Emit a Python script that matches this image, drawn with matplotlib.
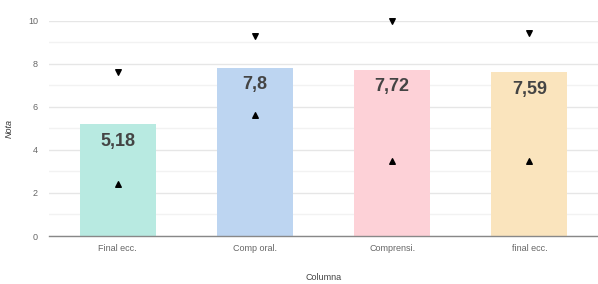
import matplotlib as mpl
mpl.use('Agg')
import matplotlib.pyplot as plt
from matplotlib.ticker import MultipleLocator

plt.rcParams['font.family'] = ['Liberation Sans', 'DejaVu Sans']

categories = ['Final ecc.', 'Comp oral.', 'Comprensi.', 'final ecc.']
means = [5.18, 7.8, 7.72, 7.59]
labels = ['5,18', '7,8', '7,72', '7,59']
maxs = [7.6, 9.3, 10.0, 9.4]
mins = [2.4, 5.6, 3.5, 3.5]
colors = ['#b8eae1', '#bdd5f1', '#fdd1d7', '#fae4bd']

fig = plt.figure(figsize=(5.98, 2.84), dpi=100)
ax = fig.add_axes([49 / 598, 48 / 284, 549 / 598, 215.5 / 284])

x = list(range(len(categories)))
ax.bar(x, means, width=0.555, color=colors, zorder=2)
ax.scatter(x, maxs, marker='v', color='black', s=16, zorder=3, clip_on=False)
ax.scatter(x, mins, marker='^', color='black', s=16, zorder=3, clip_on=False)

for xi, m, lab in zip(x, means, labels):
    ax.annotate(lab, (xi, m), xytext=(0, -6), textcoords='offset points',
                ha='center', va='top', fontsize=13, fontweight='bold',
                color='#444444', zorder=4)

ax.set_xlim(-0.5, 3.5)
ax.set_ylim(0, 10)
ax.yaxis.set_major_locator(MultipleLocator(2))
ax.yaxis.set_minor_locator(MultipleLocator(1))
ax.grid(which='major', axis='y', color='#e6e6e6', linewidth=1, zorder=0)
ax.grid(which='minor', axis='y', color='#f2f2f2', linewidth=1, zorder=0)
ax.set_axisbelow(True)

ax.set_xticks(x)
ax.set_xticklabels(categories)
ax.tick_params(axis='both', which='both', length=0, labelsize=6.5, colors='#666666')
ax.tick_params(axis='x', pad=6)
ax.tick_params(axis='y', pad=8)

for s in ['top', 'right', 'left']:
    ax.spines[s].set_visible(False)
ax.spines['bottom'].set_color('#888888')
ax.spines['bottom'].set_linewidth(1)

ax.set_xlabel('Columna', fontsize=6.5, color='#444444', labelpad=14)
ax.set_ylabel('Nota', fontsize=6.5, color='#333333', fontstyle='italic', labelpad=10)

plt.savefig('out.png', dpi=100)
plt.close()
